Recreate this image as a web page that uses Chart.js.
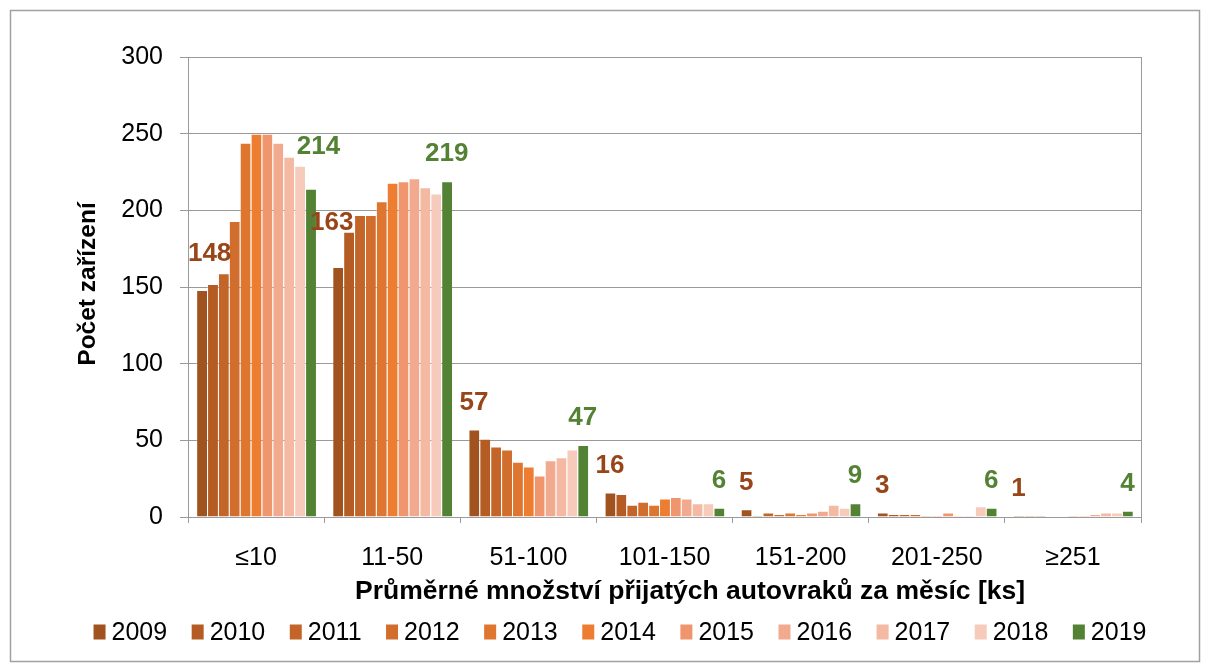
<!DOCTYPE html>
<html>
<head>
<meta charset="utf-8">
<script src="https://cdn.jsdelivr.net/npm/chart.js@4"></script>
<style>
  html, body { margin: 0; padding: 0; background: #fff; }
  #wrap { width: 1210px; height: 664px; position: relative; }
</style>
</head>
<body>
<div id="wrap"><canvas id="chart" width="1210" height="664"></canvas></div>
<script>
const categories = ["≤10", "11-50", "51-100", "101-150", "151-200", "201-250", "≥251"];
const years = ["2009", "2010", "2011", "2012", "2013", "2014", "2015", "2016", "2017", "2018", "2019"];

const y2009 = [148, 163, 57, 16, 5, 3, 1];
const y2010 = [152, 186, 51, 15, 1, 2, 1];
const y2011 = [159, 197, 46, 8, 3, 2, 1];
const y2012 = [193, 197, 44, 10, 2, 2, 0];
const y2013 = [244, 206, 36, 8, 3, 1, 0];
const y2014 = [250, 218, 33, 12, 2, 1, 1];
const y2015 = [250, 219, 27, 13, 3, 3, 1];
const y2016 = [244, 221, 37, 12, 4, 1, 2];
const y2017 = [235, 215, 39, 9, 8, 1, 3];
const y2018 = [229, 211, 44, 9, 6, 7, 3];
const y2019 = [214, 219, 47, 6, 9, 6, 4];

const yTicks = [0, 50, 100, 150, 200, 250, 300];

const seriesValues = [y2009, y2010, y2011, y2012, y2013, y2014, y2015, y2016, y2017, y2018, y2019];
const seriesColors = ["#A0521F", "#B45C24", "#C36528", "#D16E2D", "#DF7630", "#ED7D31",
                      "#F0966E", "#F2AA8F", "#F4B9A3", "#F6CBBC", "#548235"];

const xTitle = "Průměrné množství přijatých autovraků za měsíc [ks]";
const yTitle = "Počet zařízení";

const FONT = "'Liberation Sans', Arial, sans-serif";
const brownLabel = "#984619";
const greenLabel = "#548235";
// small hand nudges for a few labels (category-dataset: [dx, dy])
const labelNudge = { "0-0": [8, -9], "0-10": [8, -15], "1-0": [-6, -17] };

const frameAndExtras = {
  id: "frameAndExtras",
  beforeDraw(chart) {
    const ctx = chart.ctx;
    ctx.save();
    ctx.fillStyle = "#fff";
    ctx.fillRect(0, 0, chart.width, chart.height);
    ctx.strokeStyle = "#a0a0a0";
    ctx.lineWidth = 1.5;
    ctx.strokeRect(10.5, 10.5, 1189, 651);
    ctx.restore();
  },
  beforeDatasetsDraw(chart) {
    const ctx = chart.ctx, a = chart.chartArea;
    // right edge of plot area
    ctx.save();
    ctx.strokeStyle = "#9a9a9a";
    ctx.lineWidth = 1;
    ctx.beginPath();
    ctx.moveTo(Math.round(a.right) + 0.5, a.top);
    ctx.lineTo(Math.round(a.right) + 0.5, a.bottom);
    ctx.stroke();
    ctx.restore();
  },
  afterDraw(chart) {
    const ctx = chart.ctx, a = chart.chartArea;
    ctx.save();
    // axis titles
    ctx.fillStyle = "#000";
    ctx.textAlign = "center";
    ctx.textBaseline = "middle";
    ctx.font = "bold 26.5px " + FONT;
    ctx.fillText(xTitle, 690, 592);
    ctx.translate(88, (a.top + a.bottom) / 2 - 3);
    ctx.rotate(-Math.PI / 2);
    ctx.font = "bold 24.5px " + FONT;
    ctx.fillText(yTitle, 0, 0);
    ctx.restore();

    // legend, one row
    ctx.save();
    ctx.font = "25px " + FONT;
    ctx.textBaseline = "middle";
    const box = 12, gap = 6, spacing = 24.5, cy = 632;
    const widths = years.map(t => ctx.measureText(t).width);
    const total = widths.reduce((s, w) => s + box + gap + w, 0) + spacing * (years.length - 1);
    let x = 620 - total / 2;
    years.forEach((t, i) => {
      ctx.fillStyle = seriesColors[i];
      ctx.fillRect(x, cy - 7.5, box, 15);
      ctx.fillStyle = "#000";
      ctx.fillText(t, x + box + gap, cy + 1);
      x += box + gap + widths[i] + spacing;
    });
    ctx.restore();
  },
  afterDatasetsDraw(chart) {
    const ctx = chart.ctx;
    const last = seriesValues.length - 1;
    ctx.save();
    ctx.font = "bold 26px " + FONT;
    ctx.textAlign = "center";
    ctx.textBaseline = "middle";
    [0, last].forEach(di => {
      const meta = chart.getDatasetMeta(di);
      meta.data.forEach((bar, ci) => {
        const txt = String(seriesValues[di][ci]);
        const n = labelNudge[ci + "-" + di] || [0, 0];
        ctx.fillStyle = di === 0 ? brownLabel : greenLabel;
        ctx.fillText(txt, bar.x + n[0], bar.y - 27 + n[1]);
      });
    });
    ctx.restore();
  }
};

new Chart(document.getElementById("chart"), {
  type: "bar",
  data: {
    labels: categories,
    datasets: years.map((yr, i) => ({
      label: yr,
      data: seriesValues[i],
      backgroundColor: seriesColors[i],
      borderColor: "rgba(255,255,255,0.3)",
      borderWidth: { left: 1, right: 0, top: 1, bottom: 0 },
      barPercentage: 1,
      categoryPercentage: 0.88,
    })),
  },
  options: {
    responsive: false,
    animation: false,
    layout: { padding: { left: 99, right: 69, top: 57, bottom: 48 } },
    plugins: {
      legend: { display: false },
      tooltip: { enabled: false },
    },
    scales: {
      x: {
        afterFit(scale) { scale.height = 99; },
        grid: { drawOnChartArea: false, drawTicks: true, tickLength: 6, color: "#9a9a9a", offset: true },
        border: { color: "#9a9a9a", width: 1 },
        ticks: { color: "#000", font: { family: FONT, size: 25 }, padding: 20, maxRotation: 0 },
      },
      y: {
        min: 0,
        max: 300,
        afterFit(scale) { scale.width = 89; },
        afterBuildTicks(scale) { scale.ticks = yTicks.map(v => ({ value: v })); },
        grid: { color: "#9a9a9a", lineWidth: 1, tickLength: 8 },
        border: { color: "#9a9a9a", width: 1 },
        ticks: { color: "#000", font: { family: FONT, size: 25 }, padding: 17 },
      },
    },
  },
  plugins: [frameAndExtras],
});
</script>
</body>
</html>
